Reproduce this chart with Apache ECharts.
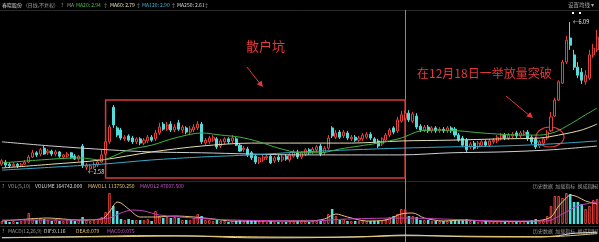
<!DOCTYPE html>
<html><head><meta charset="utf-8">
<script src="https://cdn.jsdelivr.net/npm/echarts@6/dist/echarts.min.js"></script>
<style>html,body{margin:0;padding:0;background:#000;}#c{width:599px;height:242px;}</style>
</head><body><div id="c"></div>
<script>
// [open, close, low, high]
const candles = [
[2.72,2.80,2.68,2.84],[2.77,2.70,2.65,2.82],[2.72,2.68,2.63,2.77],[2.68,2.72,2.65,2.77],[2.72,2.68,2.63,2.75],
[2.68,2.72,2.65,2.75],[2.72,2.77,2.70,2.82],[2.77,2.89,2.75,2.94],[2.89,2.99,2.87,3.06],[2.99,2.94,2.89,3.03],
[2.96,3.06,2.91,3.10],[3.10,2.96,2.94,3.15],[2.99,3.03,2.94,3.08],[3.03,2.96,2.91,3.06],[2.96,3.01,2.91,3.06],
[3.01,2.91,2.87,3.03],[2.89,2.94,2.84,2.96],[2.91,2.96,2.87,3.01],[2.99,2.87,2.84,3.01],[2.91,2.84,2.82,2.96],
[2.84,2.91,2.80,2.94],[3.15,2.68,2.63,3.20],[2.65,2.70,2.58,2.75],[2.61,2.68,2.53,2.72],[2.65,2.72,2.61,2.77],
[2.70,2.77,2.65,2.82],[2.77,2.94,2.75,3.06],[2.96,3.25,2.91,3.34],[3.25,3.60,3.20,3.65],[4.07,3.65,3.58,4.12],
[3.58,3.41,3.36,3.62],[3.53,3.34,3.29,3.58],[3.32,3.36,3.27,3.41],[3.39,3.29,3.25,3.43],[3.34,3.25,3.20,3.39],
[3.25,3.32,3.20,3.36],[3.32,3.22,3.17,3.36],[3.22,3.29,3.17,3.34],[3.27,3.36,3.22,3.41],[3.36,3.29,3.25,3.41],
[3.32,3.46,3.27,3.53],[3.46,3.60,3.41,3.70],[3.67,3.55,3.51,3.72],[3.55,3.65,3.51,3.72],[3.67,3.53,3.48,3.74],
[3.53,3.60,3.48,3.67],[3.70,3.55,3.51,3.77],[3.53,3.60,3.46,3.65],[3.58,3.48,3.43,3.62],[3.48,3.55,3.43,3.62],
[3.53,3.60,3.48,3.67],[3.58,3.67,3.53,3.74],[3.67,3.25,3.20,3.72],[3.22,3.29,3.17,3.34],[3.25,3.34,3.20,3.39],
[3.29,3.36,3.25,3.41],[3.32,3.13,3.08,3.36],[3.15,3.27,3.10,3.32],[3.25,3.32,3.20,3.36],[3.32,3.25,3.20,3.36],
[3.27,3.34,3.22,3.41],[3.32,3.17,3.15,3.36],[3.17,3.03,3.01,3.22],[3.06,3.10,3.01,3.15],[3.08,2.94,2.89,3.13],
[2.99,2.87,2.82,3.03],[2.91,2.77,2.72,2.96],[2.77,2.87,2.72,2.89],[2.82,2.89,2.77,2.94],[2.87,2.91,2.82,2.96],
[2.91,2.75,2.72,2.96],[2.80,2.87,2.75,2.91],[2.89,2.82,2.77,2.94],[2.82,2.89,2.77,2.94],[2.91,2.84,2.80,2.96],
[2.82,2.94,2.77,2.99],[2.91,3.01,2.87,3.06],[3.01,2.89,2.84,3.06],[2.89,2.99,2.84,3.03],[2.96,3.06,2.91,3.10],
[3.06,2.99,2.94,3.10],[3.01,3.08,2.96,3.13],[3.06,3.13,3.01,3.17],[3.15,2.96,2.91,3.20],[2.99,3.10,2.94,3.15],
[3.10,3.34,3.06,3.41],[3.58,3.39,3.34,3.62],[3.36,3.46,3.32,3.53],[3.48,3.36,3.32,3.53],[3.39,3.48,3.34,3.53],
[3.46,3.34,3.29,3.51],[3.32,3.36,3.27,3.41],[3.36,3.29,3.25,3.41],[3.29,3.34,3.25,3.39],[3.32,3.41,3.27,3.46],
[3.36,3.43,3.32,3.48],[3.43,3.34,3.29,3.48],[3.32,3.25,3.20,3.36],[3.27,3.15,3.10,3.32],[3.20,3.32,3.15,3.36],
[3.29,3.41,3.25,3.46],[3.41,3.53,3.36,3.58],[3.58,3.48,3.43,3.62],[3.51,3.77,3.46,3.84],[3.74,3.89,3.70,3.98],
[3.81,3.93,3.77,4.00],[3.93,3.77,3.72,4.00],[3.74,3.91,3.70,3.96],[3.86,3.60,3.55,3.93],[3.62,3.53,3.48,3.67],
[3.53,3.60,3.48,3.65],[3.60,3.51,3.46,3.65],[3.51,3.58,3.46,3.62],[3.58,3.51,3.46,3.62],[3.51,3.55,3.46,3.60],
[3.55,3.51,3.46,3.60],[3.51,3.58,3.46,3.62],[3.58,3.51,3.46,3.62],[3.55,3.41,3.36,3.60],[3.41,3.29,3.25,3.46],
[3.34,3.17,3.13,3.39],[3.29,3.06,3.01,3.34],[3.13,3.20,3.08,3.25],[3.22,3.10,3.06,3.27],[3.13,3.22,3.08,3.27],
[3.17,3.25,3.13,3.29],[3.25,3.17,3.13,3.29],[3.17,3.27,3.13,3.32],[3.25,3.29,3.20,3.34],[3.27,3.36,3.22,3.41],
[3.34,3.41,3.29,3.46],[3.41,3.34,3.29,3.46],[3.34,3.41,3.29,3.46],[3.39,3.43,3.34,3.48],[3.46,3.39,3.34,3.51],
[3.39,3.46,3.34,3.51],[3.43,3.48,3.39,3.53],[3.48,3.32,3.27,3.53],[3.36,3.25,3.20,3.41],[3.32,3.13,3.08,3.36],
[3.15,3.25,3.10,3.29],[3.22,3.32,3.17,3.36],[3.34,3.48,3.29,3.53],[3.51,3.84,3.48,3.96],[3.86,4.24,3.84,4.29],
[4.24,4.67,4.22,4.71],[4.64,5.14,4.62,5.19],[5.14,5.66,5.09,5.76],[5.71,5.54,5.43,6.09],[5.31,5.02,4.95,5.43],
[5.02,4.83,4.76,5.14],[4.90,4.71,4.62,5.00],[4.67,4.83,4.60,4.95],[4.76,5.31,4.71,5.43],[5.31,5.47,5.24,5.57],
[5.43,5.73,5.38,5.90]
];
const volumes = [
33000,33000,22000,33000,22000,33000,44000,121000,66000,44000,
66000,55000,44000,33000,55000,33000,33000,44000,44000,33000,
44000,77000,44000,33000,44000,55000,77000,132000,341000,198000,
143000,55000,44000,55000,44000,44000,44000,44000,55000,33000,
143000,88000,66000,77000,66000,77000,66000,44000,44000,44000,
66000,110000,88000,44000,44000,33000,44000,33000,33000,22000,
33000,33000,44000,33000,44000,44000,44000,33000,33000,22000,
33000,22000,22000,22000,22000,33000,33000,33000,33000,33000,
22000,33000,33000,33000,44000,110000,165000,88000,44000,55000,
33000,33000,33000,33000,44000,33000,33000,33000,33000,33000,
55000,77000,88000,110000,165000,164742,88000,88000,77000,44000,
44000,44000,33000,33000,33000,33000,33000,33000,44000,44000,
44000,55000,33000,33000,22000,22000,33000,22000,22000,22000,
33000,33000,22000,22000,33000,22000,22000,33000,44000,55000,
33000,44000,88000,198000,308000,308000,286000,341000,330000,242000,
242000,220000,165000,198000,264000,275000
];
// moving-average lines: [candle index, value]
const ma20 = [[0,2.75],[10,2.82],[20,2.87],[26,2.82],[28,2.87],[33,3.06],[39,3.17],[45,3.34],[52,3.46],[57,3.41],[62,3.36],[67,3.25],[72,3.10],[78,2.99],[83,2.99],[88,3.08],[93,3.15],[98,3.22],[104,3.34],[109,3.51],[114,3.53],[119,3.51],[125,3.46],[130,3.43],[135,3.41],[140,3.41],[144,3.48],[148,3.67],[152,3.89],[155,4.05]];
const ma60 = [[0,2.63],[13,2.72],[26,2.82],[39,3.01],[52,3.15],[65,3.22],[78,3.22],[91,3.22],[104,3.27],[117,3.29],[130,3.32],[140,3.34],[145,3.41],[151,3.53],[155,3.67]];
const ma120 = [[0,2.58],[26,2.72],[39,2.82],[52,2.89],[65,2.94],[78,3.01],[91,3.06],[104,3.10],[117,3.13],[130,3.15],[143,3.20],[155,3.27]];
const ma250 = [[0,3.25],[13,3.15],[28,3.06],[39,3.01],[52,2.99],[78,2.94],[104,2.94],[117,2.99],[130,3.01],[143,3.06],[155,3.15]];
const mavol1 = [[0,33000],[7,55000],[12,66000],[20,44000],[26,55000],[28,132000],[29,198000],[30,242000],[31,231000],[33,165000],[36,77000],[40,77000],[45,88000],[50,77000],[55,55000],[60,33000],[70,33000],[80,33000],[84,55000],[87,110000],[90,77000],[95,33000],[100,44000],[104,110000],[107,121000],[110,66000],[115,33000],[120,44000],[125,33000],[135,27500],[140,38500],[143,77000],[145,198000],[147,286000],[148,319000],[150,297000],[152,253000],[155,220000]];
const mavol2 = [[0,44000],[20,44000],[28,66000],[31,121000],[34,154000],[37,143000],[41,99000],[50,66000],[60,44000],[80,33000],[90,55000],[105,66000],[115,55000],[130,33000],[142,33000],[146,110000],[150,198000],[155,242000]];
const dif = [[0,-0.05],[28,0.05],[35,0.08],[50,0.06],[65,-0.05],[80,-0.04],[95,0.03],[105,0.116],[120,0.02],[140,0.0],[145,0.08],[148,0.2],[152,0.26],[155,0.28]];
const dea = [[0,-0.03],[30,0.02],[45,0.06],[70,0.0],[90,-0.01],[105,0.079],[125,0.04],[143,0.02],[148,0.08],[152,0.15],[155,0.2]];
const categories = candles.map((_, i) => 'K' + (i + 1));
const boxStart = 27, boxEnd = 105, boxTop = 4.24, boxBottom = 2.39;
const highLabel = '←6.09', lowLabel = '←2.58';

const RED = '#e2403b', CYAN = '#52dcdc';
const F = '"Noto Sans CJK SC", "Noto Sans", sans-serif';
const chart = echarts.init(document.getElementById('c'), null, {renderer: 'canvas'});

function t(x, y, s, fill, size, extra) {
  return Object.assign({type: 'text', x: x, y: y, silent: true,
    style: {text: s, fill: fill, font: (size || 5) + 'px ' + F}}, extra || {});
}
function hline(y, c) { return {type: 'line', silent: true, shape: {x1: 0, y1: y, x2: 599, y2: y}, style: {stroke: c || '#2a2a2a', lineWidth: 1}}; }

const volData = volumes.map((v, i) => {
  const up = candles[i][1] >= candles[i][0];
  return {value: v, itemStyle: up ? {color: 'rgba(0,0,0,0)', borderColor: RED, borderWidth: 1} : {color: CYAN}};
});

const graphics = [
  hline(10.5), hline(181.5), hline(226.5),
  {type: 'line', silent: true, shape: {x1: 405.5, y1: 10, x2: 405.5, y2: 242}, style: {stroke: '#8a8a8a', lineWidth: 1}},
  t(2, 2.5, '春晓股份', '#d8d8d8', 5), t(26, 2.5, '(日线,不复权)', '#9a9a9a', 5),
  t(61, 2.5, '?', '#9a9a9a', 5), t(67, 2.5, 'MA', '#9a9a9a', 5),
  t(76, 2.5, 'MA20: 2.94', '#46c846', 5), t(103, 2.5, '↕', '#888', 5),
  t(110, 2.5, 'MA60: 2.79', '#e8e4b8', 5), t(136, 2.5, '↕', '#888', 5),
  t(142, 2.5, 'MA120: 2.90', '#3fb7d6', 5), t(171, 2.5, '↕', '#888', 5),
  t(177, 2.5, 'MA250: 2.61', '#dcdcdc', 5), t(204, 2.5, '↕', '#888', 5),
  t(568, 2, '设置均线 ▾', '#a8a8a8', 5.5),
  t(2, 183.5, '?', '#9a9a9a', 5), t(8, 183.5, 'VOL(5,10)', '#9a9a9a', 5),
  t(35, 183.5, 'VOLUME 164742.000', '#dcdcdc', 5),
  t(88, 183.5, 'MAVOL1 113750.250', '#e6c86e', 5),
  t(140, 183.5, 'MAVOL2 47607.500', '#d050d0', 5),
  t(533, 184, '历史数据  加载指标  换成指标', '#9a9a9a', 5), t(592, 184, '[+]', '#9a9a9a', 5),
  t(2, 228.5, '?', '#9a9a9a', 5), t(8, 228.5, 'MACD(12,26,9)', '#9a9a9a', 5),
  t(44, 228.5, 'DIF:0.116', '#dcdcdc', 5), t(76, 228.5, 'DEA:0.079', '#e6c86e', 5),
  t(107, 228.5, 'MACD:0.075', '#d050d0', 5),
  t(533, 229, '历史数据  加载指标  换成指标', '#9a9a9a', 5), t(592, 229, '[+]', '#9a9a9a', 5),
  {type: 'rect', silent: true, shape: {x: 572, y: 12, width: 2, height: 2}, style: {fill: '#fff'}},
  {type: 'rect', silent: true, shape: {x: 579, y: 12, width: 2, height: 2}, style: {fill: '#fff'}},
  t(573, 19, highLabel, '#e0e0e0', 5.5), t(88, 169, lowLabel, '#e0e0e0', 5.5),
  t(246, 40, '散户坑', '#e23a3a', 13),
  t(417, 67, '在12月18日一举放量突破', '#e23a3a', 12),
  {type: 'line', silent: true, shape: {x1: 247, y1: 67, x2: 261, y2: 85}, style: {stroke: '#e23a3a', lineWidth: 1}},
  {type: 'polygon', silent: true, shape: {points: [[263, 87], [256.9, 84.2], [261.6, 80.4]]}, style: {fill: '#e23a3a'}},
  {type: 'line', silent: true, shape: {x1: 506, y1: 96, x2: 530, y2: 116}, style: {stroke: '#e23a3a', lineWidth: 1}},
  {type: 'polygon', silent: true, shape: {points: [[533, 118], [526.4, 116.5], [530.2, 111.9]]}, style: {fill: '#e23a3a'}},
  {type: 'ellipse', silent: true, shape: {cx: 550, cy: 137, rx: 14, ry: 10}, style: {fill: 'none', stroke: '#e23a3a', lineWidth: 1.2}}
];

function maLine(name, data, color, xi, yi) {
  return {name: name, type: 'line', data: data, xAxisIndex: xi || 0, yAxisIndex: yi || 0,
    showSymbol: false, smooth: 0.3, silent: true, lineStyle: {width: 1, color: color}};
}

const option = {
  backgroundColor: '#000',
  animation: false,
  grid: [
    {left: 0, right: 0, top: 12, height: 168},
    {left: 0, right: 0, top: 190, height: 34},
    {left: 0, right: 0, top: 232, height: 40}
  ],
  xAxis: [0, 1, 2].map(g => ({type: 'category', gridIndex: g, data: categories, boundaryGap: true, show: false})),
  yAxis: [
    {gridIndex: 0, min: 2.345, max: 6.327, show: false, splitLine: {show: false}},
    {gridIndex: 1, min: 0, max: 374000, show: false, splitLine: {show: false}},
    {gridIndex: 2, min: -0.3, max: 0.3, show: false, splitLine: {show: false}}
  ],
  series: [
    maLine('MA250', ma250, '#d0d0d0'),
    maLine('MA120', ma120, '#3aa8c8'),
    maLine('MA60', ma60, '#e4e0b0'),
    maLine('MA20', ma20, '#3fb53f'),
    {type: 'candlestick', data: candles, barWidth: '66%', silent: true,
      itemStyle: {color: '#000', color0: CYAN, borderColor: RED, borderColor0: CYAN, borderWidth: 1},
      markArea: {silent: true, itemStyle: {color: 'rgba(0,0,0,0)', borderColor: '#d83a3a', borderWidth: 1.5},
        data: [[{coord: [categories[boxStart], boxTop]}, {coord: [categories[boxEnd], boxBottom]}]]}},
    {type: 'bar', xAxisIndex: 1, yAxisIndex: 1, data: volData, barWidth: '66%', silent: true},
    maLine('MAVOL1', mavol1, '#e6c07b', 1, 1),
    maLine('MAVOL2', mavol2, '#c040c0', 1, 1),
    maLine('DIF', dif, '#dcdcdc', 2, 2),
    maLine('DEA', dea, '#e6c86e', 2, 2)
  ],
  graphic: graphics
};
chart.setOption(option);
</script></body></html>
